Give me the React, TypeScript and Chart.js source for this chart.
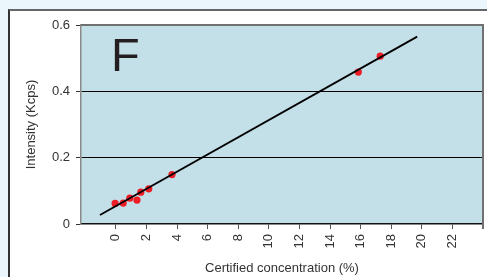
import React, { useEffect, useRef } from "react";
import { Chart, registerables } from "chart.js";

Chart.register(...registerables);

const xTickValues = [0, 2, 4, 6, 8, 10, 12, 14, 16, 18, 20, 22, 24];
const yTickValues = [0, 0.2, 0.4, 0.6];
const concentration = [-0.05, 0.48, 0.91, 1.38, 1.63, 2.15, 3.67, 15.85, 17.28];
const intensity = [0.062, 0.063, 0.078, 0.072, 0.096, 0.106, 0.149, 0.458, 0.506];
const fitX = [-1.04, 19.7];
const fitY = [0.027, 0.565];
const panelLetter = "F";
const xTitle = "Certified concentration (%)";
const yTitle = "Intensity (Kcps)";

const FONT = "'Liberation Sans', Arial, Helvetica, sans-serif";

const plotDecor = {
  id: "plotDecor",
  beforeDraw(chart: any) {
    const { ctx, chartArea: a } = chart;
    ctx.save();
    ctx.fillStyle = "#c3dfe7";
    ctx.fillRect(a.left, a.top, a.right - a.left, a.bottom - a.top);
    ctx.restore();
  },
  afterDraw(chart: any) {
    const { ctx, chartArea: a } = chart;
    ctx.save();
    ctx.strokeStyle = "#707070";
    ctx.lineWidth = 2;
    ctx.beginPath();
    ctx.moveTo(a.left, a.top);
    ctx.lineTo(a.right, a.top);
    ctx.lineTo(a.right, a.bottom + 5);
    ctx.stroke();
    ctx.fillStyle = "#231f20";
    ctx.font = `47px ${FONT}`;
    ctx.textBaseline = "alphabetic";
    ctx.textAlign = "left";
    ctx.fillText(panelLetter, 111, 71);
    ctx.restore();
  },
};

export default function App() {
  const ref = useRef<HTMLCanvasElement>(null);
  useEffect(() => {
    const canvas = ref.current!;
    const points = concentration.map((x, i) => ({ x, y: intensity[i] }));
    const fit = fitX.map((x, i) => ({ x, y: fitY[i] }));
    const chart = new Chart(canvas, {
      type: "scatter",
      data: {
        datasets: [
          {
            type: "line",
            data: fit,
            borderColor: "#000000",
            borderWidth: 1.8,
            pointRadius: 0,
            fill: false,
          } as any,
          {
            data: points,
            backgroundColor: "#ee1c25",
            borderColor: "#ee1c25",
            pointRadius: 3.6,
            borderWidth: 0,
          },
        ],
      },
      plugins: [plotDecor],
      options: {
        animation: false,
        responsive: false,
        devicePixelRatio: 1,
        layout: { padding: { left: 0, right: 2, top: 25, bottom: 0 } },
        plugins: { legend: { display: false }, tooltip: { enabled: false } },
        scales: {
          x: {
            type: "linear",
            min: -2.28,
            max: 24,
            afterFit(scale: any) {
              scale.height = 53;
              scale.paddingLeft = 0;
              scale.paddingRight = 0;
            },
            afterBuildTicks(scale: any) {
              scale.ticks = xTickValues.map((v) => ({ value: v }));
            },
            ticks: {
              minRotation: 90,
              maxRotation: 90,
              padding: 5,
              color: "#333333",
              font: { family: FONT, size: 13 },
              callback: (v: any) => (v === 24 ? "" : String(v)),
            },
            grid: {
              drawOnChartArea: false,
              tickLength: 5,
              tickColor: "#555555",
              tickWidth: 1,
            },
            border: { color: "#111111", width: 1.5 },
            title: {
              display: true,
              text: xTitle,
              color: "#333333",
              font: { family: FONT, size: 13 },
              padding: { top: 0, bottom: 1 },
            },
          },
          y: {
            min: 0,
            max: 0.6,
            afterFit(scale: any) {
              scale.width = 81;
              scale.paddingTop = 0;
              scale.paddingBottom = 0;
            },
            afterBuildTicks(scale: any) {
              scale.ticks = yTickValues.map((v) => ({ value: v }));
            },
            ticks: {
              padding: 6,
              color: "#333333",
              font: { family: FONT, size: 13 },
              callback: (v: any) => (v === 0 ? "0" : Number(v).toFixed(1)),
            },
            grid: {
              color: (c: any) =>
                c.tick && (c.tick.value === 0.2 || c.tick.value === 0.4) ? "#000000" : "rgba(0,0,0,0)",
              lineWidth: 1,
              tickLength: 5,
              tickColor: "#333333",
              tickWidth: 1,
            },
            border: { color: "#8a8a8a", width: 1.5 },
            title: {
              display: true,
              text: yTitle,
              color: "#333333",
              font: { family: FONT, size: 13 },
              padding: { top: 24, bottom: 0 },
            },
          },
        },
      },
    });
    return () => chart.destroy();
  }, []);

  return (
    <div
      style={{
        position: "fixed",
        left: 0,
        top: 0,
        width: 487,
        height: 277,
        background: "#eaf6fb",
        overflow: "hidden",
      }}
    >
      <div
        style={{
          position: "absolute",
          left: 8,
          top: 9,
          right: 0,
          bottom: 0,
          background: "#ffffff",
          borderTop: "2px solid #666666",
          borderLeft: "2px solid #333333",
        }}
      />
      <canvas ref={ref} width={487} height={277} style={{ position: "absolute", left: 0, top: 0, width: 487, height: 277 }} />
    </div>
  );
}
